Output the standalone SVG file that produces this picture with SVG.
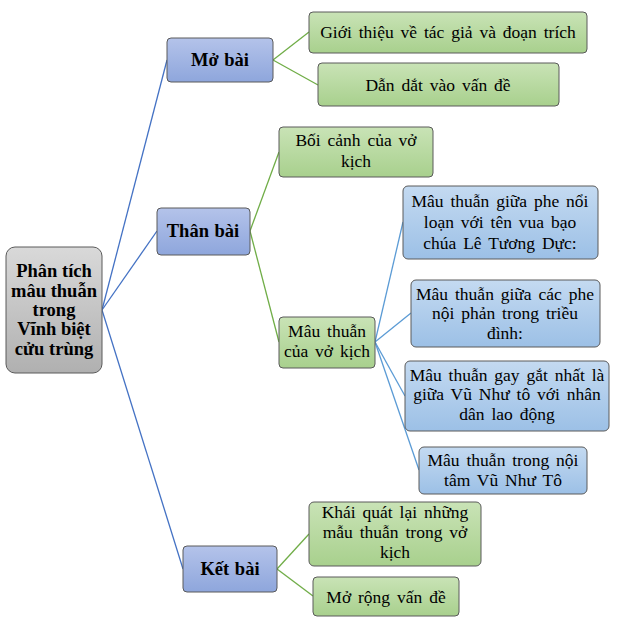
<svg xmlns="http://www.w3.org/2000/svg" width="621" height="625" viewBox="0 0 621 625">
<defs>
<linearGradient id="gGray" x1="0" y1="0" x2="0" y2="1"><stop offset="0" stop-color="#d9d9d9"/><stop offset="1" stop-color="#b0b0b0"/></linearGradient>
<linearGradient id="gL1" x1="0" y1="0" x2="0" y2="1"><stop offset="0" stop-color="#b4c3ea"/><stop offset="1" stop-color="#8ea6dc"/></linearGradient>
<linearGradient id="gGreen" x1="0" y1="0" x2="0" y2="1"><stop offset="0" stop-color="#c9e3b6"/><stop offset="1" stop-color="#a8d08d"/></linearGradient>
<linearGradient id="gBlue" x1="0" y1="0" x2="0" y2="1"><stop offset="0" stop-color="#c4daf1"/><stop offset="1" stop-color="#9cc0e6"/></linearGradient>
</defs>
<style>
.box{stroke:#5a5a5a;stroke-width:1}
.root{fill:url(#gGray)}
.l1{fill:url(#gL1)}
.gr{fill:url(#gGreen)}
.bl{fill:url(#gBlue)}
text{font-family:'Liberation Serif','Times New Roman',serif;font-size:17.5px;fill:#000;text-anchor:middle;word-spacing:2.5px}
.b{font-weight:bold;font-size:18.5px;word-spacing:1px}
.rt{font-weight:bold;font-size:18.5px;word-spacing:0}
.c1{stroke:#4472c4;stroke-width:1.3;fill:none}
.c2{stroke:#70ad47;stroke-width:1.3;fill:none}
.c3{stroke:#5b9bd5;stroke-width:1.3;fill:none}
</style>
<rect width="621" height="625" fill="#ffffff"/>
<g id="connectors">
<line class="c1" x1="102" y1="310" x2="167" y2="60"/>
<line class="c1" x1="102" y1="310" x2="157" y2="231"/>
<line class="c1" x1="102" y1="310" x2="183" y2="569"/>
<line class="c2" x1="273" y1="60" x2="309" y2="32"/>
<line class="c2" x1="273" y1="60" x2="318" y2="85"/>
<line class="c2" x1="250" y1="231" x2="279" y2="152"/>
<line class="c2" x1="250" y1="231" x2="279" y2="342"/>
<line class="c3" x1="375" y1="342" x2="403" y2="222"/>
<line class="c3" x1="375" y1="342" x2="411" y2="313"/>
<line class="c3" x1="375" y1="342" x2="405" y2="396"/>
<line class="c3" x1="375" y1="342" x2="419" y2="470"/>
<line class="c2" x1="277" y1="569" x2="309" y2="534"/>
<line class="c2" x1="277" y1="569" x2="313" y2="596"/>
</g>
<g font-family="'Liberation Serif', 'Times New Roman', serif">
<g id="root">
<rect class="box root" x="6" y="247" width="96" height="126" rx="9"/>
<text class="rt" x="54" y="277">Phân tích</text>
<text class="rt" x="54" y="297">mâu thuẫn</text>
<text class="rt" x="54" y="316">trong</text>
<text class="rt" x="54" y="335">Vĩnh biệt</text>
<text class="rt" x="54" y="355">cửu trùng</text>
</g>
<g id="mobai">
<rect class="box l1" x="167" y="38" width="106" height="44" rx="4"/>
<text class="b" x="220" y="66">Mở bài</text>
</g>
<g id="gioithieu">
<rect class="box gr" x="309" y="12" width="278" height="41" rx="4"/>
<text x="448" y="38">Giới thiệu về tác giả và đoạn trích</text>
</g>
<g id="dandat">
<rect class="box gr" x="318" y="63" width="241" height="43" rx="4"/>
<text x="438" y="91">Dẫn dắt vào vấn đề</text>
</g>
<g id="thanbai">
<rect class="box l1" x="157" y="208" width="93" height="47" rx="4"/>
<text class="b" x="203" y="237">Thân bài</text>
</g>
<g id="boicanh">
<rect class="box gr" x="279" y="127" width="154" height="50" rx="4"/>
<text x="356" y="146">Bối cảnh của vở</text>
<text x="356" y="167">kịch</text>
</g>
<g id="mauthuan">
<rect class="box gr" x="279" y="317" width="96" height="51" rx="4"/>
<text x="327" y="337">Mâu thuẫn</text>
<text x="327" y="357">của vở kịch</text>
</g>
<g id="mt1">
<rect class="box bl" x="403" y="186" width="195" height="73" rx="5"/>
<text x="500" y="207">Mâu thuẫn giữa phe nổi</text>
<text x="500" y="228">loạn với tên vua bạo</text>
<text x="500" y="249">chúa Lê Tương Dực:</text>
</g>
<g id="mt2">
<rect class="box bl" x="411" y="280" width="189" height="67" rx="5"/>
<text x="505" y="300">Mâu thuẫn giữa các phe</text>
<text x="505" y="319">nội phản trong triều</text>
<text x="505" y="339">đình:</text>
</g>
<g id="mt3">
<rect class="box bl" x="405" y="361" width="204" height="70" rx="5"/>
<text x="507" y="381">Mâu thuẫn gay gắt nhất là</text>
<text x="507" y="400">giữa Vũ Như tô với nhân</text>
<text x="507" y="420">dân lao động</text>
</g>
<g id="mt4">
<rect class="box bl" x="419" y="447" width="168" height="47" rx="5"/>
<text x="503" y="466">Mâu thuẫn trong nội</text>
<text x="503" y="486">tâm Vũ Như Tô</text>
</g>
<g id="ketbai">
<rect class="box l1" x="183" y="546" width="94" height="46" rx="4"/>
<text class="b" x="230" y="575">Kết bài</text>
</g>
<g id="khaiquat">
<rect class="box gr" x="309" y="502" width="172" height="64" rx="5"/>
<text x="395" y="518">Khái quát lại những</text>
<text x="395" y="538">mẫu thuẫn trong vở</text>
<text x="395" y="558">kịch</text>
</g>
<g id="morong">
<rect class="box gr" x="313" y="577" width="146" height="39" rx="4"/>
<text x="386" y="603">Mở rộng vấn đề</text>
</g>
</g>
</svg>
